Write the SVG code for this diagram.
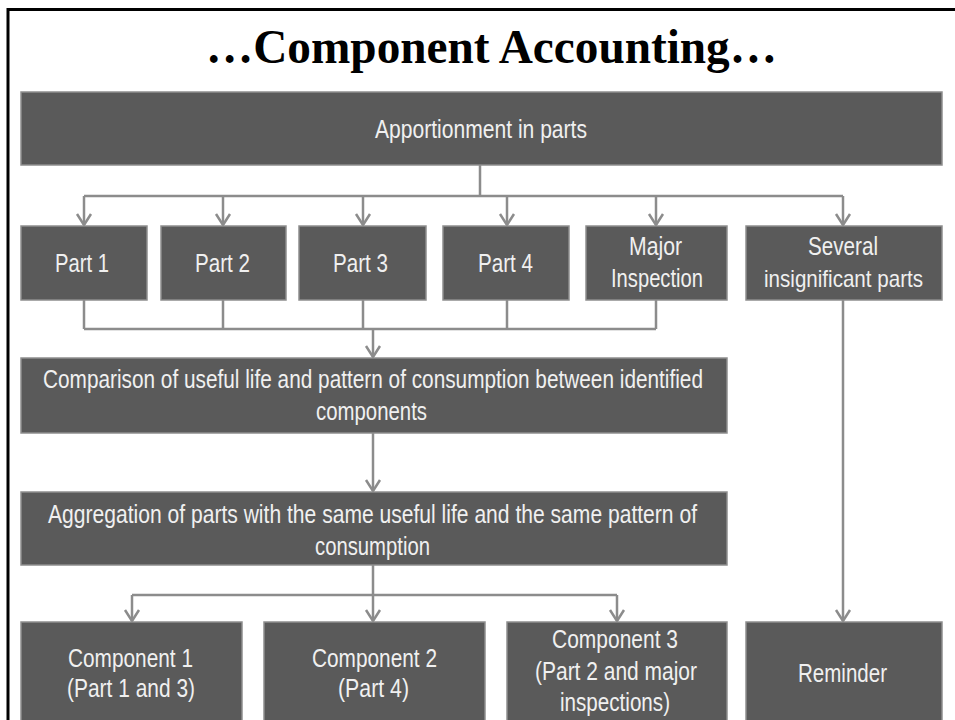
<svg xmlns="http://www.w3.org/2000/svg" width="955" height="720" viewBox="0 0 955 720">
  <defs>
    <style>
      .box { fill: #5a5a5a; stroke: #8e8e8e; stroke-width: 1.5; }
      .lbl { font-family: "Liberation Sans", Arial, sans-serif; font-size: 26px; fill: #f0f0f0; }
      .lbl.tight { font-size: 24px; }
      .title { font-family: "Liberation Serif", "Times New Roman", serif; font-size: 48px; font-weight: bold; fill: #000; }
      .wire { fill: none; stroke: #8c8c8c; stroke-width: 2.5; }
      .frame { fill: none; stroke: #000; stroke-width: 3; }
    </style>
    <marker id="chev" viewBox="-14 -9 16 18" refX="0" refY="0" markerWidth="16" markerHeight="18" orient="auto" markerUnits="userSpaceOnUse">
      <path d="M-11,-7 L0,0 L-11,7" fill="none" stroke="#8c8c8c" stroke-width="2.5"/>
    </marker>
  </defs>

  <rect width="955" height="720" fill="#ffffff"/>

  <!-- slide frame: top and left rules -->
  <path class="frame" d="M8,720 L8,9.5 L955,9.5"/>

  <text class="title" x="206" y="63" textLength="571" lengthAdjust="spacingAndGlyphs">…Component Accounting…</text>

  <!-- connectors -->
  <g id="connectors">
    <!-- apportionment split -->
    <path class="wire" d="M480,165 L480,196 M84,196 L843,196"/>
    <path class="wire" d="M84,196 L84,225" marker-end="url(#chev)"/>
    <path class="wire" d="M223,196 L223,225" marker-end="url(#chev)"/>
    <path class="wire" d="M363,196 L363,225" marker-end="url(#chev)"/>
    <path class="wire" d="M507,196 L507,225" marker-end="url(#chev)"/>
    <path class="wire" d="M656,196 L656,225" marker-end="url(#chev)"/>
    <path class="wire" d="M843,196 L843,225" marker-end="url(#chev)"/>
    <!-- parts merge -->
    <path class="wire" d="M84,300 L84,329 M223,300 L223,329 M363,300 L363,329 M507,300 L507,329 M656,300 L656,329 M84,329 L656,329"/>
    <path class="wire" d="M373,329 L373,357" marker-end="url(#chev)"/>
    <!-- comparison to aggregation -->
    <path class="wire" d="M373,433 L373,491" marker-end="url(#chev)"/>
    <!-- aggregation split -->
    <path class="wire" d="M373,565 L373,595 M132,595 L617,595"/>
    <path class="wire" d="M132,595 L132,621" marker-end="url(#chev)"/>
    <path class="wire" d="M373,595 L373,621" marker-end="url(#chev)"/>
    <path class="wire" d="M617,595 L617,621" marker-end="url(#chev)"/>
    <!-- insignificant parts to reminder -->
    <path class="wire" d="M843,300 L843,621" marker-end="url(#chev)"/>
  </g>

  <g id="apportionment">
    <rect class="box" x="21" y="92" width="921" height="73"/>
    <text class="lbl" x="375" y="138" textLength="212" lengthAdjust="spacingAndGlyphs">Apportionment in parts</text>
  </g>

  <g id="part1">
    <rect class="box" x="21" y="226" width="126" height="74"/>
    <text class="lbl" x="55" y="272" textLength="54" lengthAdjust="spacingAndGlyphs">Part 1</text>
  </g>
  <g id="part2">
    <rect class="box" x="161" y="226" width="125" height="74"/>
    <text class="lbl" x="195" y="272" textLength="55" lengthAdjust="spacingAndGlyphs">Part 2</text>
  </g>
  <g id="part3">
    <rect class="box" x="299" y="226" width="127" height="74"/>
    <text class="lbl" x="333" y="272" textLength="55" lengthAdjust="spacingAndGlyphs">Part 3</text>
  </g>
  <g id="part4">
    <rect class="box" x="443" y="226" width="126" height="74"/>
    <text class="lbl" x="478" y="272" textLength="55" lengthAdjust="spacingAndGlyphs">Part 4</text>
  </g>
  <g id="major-inspection">
    <rect class="box" x="586" y="226" width="141" height="74"/>
    <text class="lbl" x="629" y="255" textLength="53" lengthAdjust="spacingAndGlyphs">Major</text>
    <text class="lbl" x="611" y="287" textLength="92" lengthAdjust="spacingAndGlyphs">Inspection</text>
  </g>
  <g id="insignificant-parts">
    <rect class="box" x="746" y="226" width="196" height="74"/>
    <text class="lbl" x="808" y="255" textLength="70" lengthAdjust="spacingAndGlyphs">Several</text>
    <text class="lbl tight" x="764" y="287" textLength="159" lengthAdjust="spacingAndGlyphs">insignificant parts</text>
  </g>

  <g id="comparison">
    <rect class="box" x="21" y="358" width="706" height="75"/>
    <text class="lbl" x="43" y="388" textLength="660" lengthAdjust="spacingAndGlyphs">Comparison of useful life and pattern of consumption between identified</text>
    <text class="lbl" x="316" y="420" textLength="111" lengthAdjust="spacingAndGlyphs">components</text>
  </g>

  <g id="aggregation">
    <rect class="box" x="21" y="492" width="706" height="73"/>
    <text class="lbl" x="48" y="523" textLength="649" lengthAdjust="spacingAndGlyphs">Aggregation of parts with the same useful life and the same pattern of</text>
    <text class="lbl" x="315" y="555" textLength="115" lengthAdjust="spacingAndGlyphs">consumption</text>
  </g>

  <g id="component1">
    <rect class="box" x="21" y="622" width="221" height="110"/>
    <text class="lbl" x="68" y="667" textLength="125" lengthAdjust="spacingAndGlyphs">Component  1</text>
    <text class="lbl" x="67" y="697" textLength="128" lengthAdjust="spacingAndGlyphs">(Part 1 and 3)</text>
  </g>
  <g id="component2">
    <rect class="box" x="264" y="622" width="221" height="110"/>
    <text class="lbl" x="312" y="667" textLength="125" lengthAdjust="spacingAndGlyphs">Component  2</text>
    <text class="lbl" x="338" y="697" textLength="71" lengthAdjust="spacingAndGlyphs">(Part 4)</text>
  </g>
  <g id="component3">
    <rect class="box" x="507" y="622" width="220" height="110"/>
    <text class="lbl" x="552" y="648" textLength="126" lengthAdjust="spacingAndGlyphs">Component  3</text>
    <text class="lbl" x="535" y="680" textLength="162" lengthAdjust="spacingAndGlyphs">(Part 2 and major</text>
    <text class="lbl" x="560" y="711" textLength="110" lengthAdjust="spacingAndGlyphs">inspections)</text>
  </g>
  <g id="reminder">
    <rect class="box" x="746" y="622" width="196" height="110"/>
    <text class="lbl" x="798" y="682" textLength="89" lengthAdjust="spacingAndGlyphs">Reminder</text>
  </g>
</svg>
